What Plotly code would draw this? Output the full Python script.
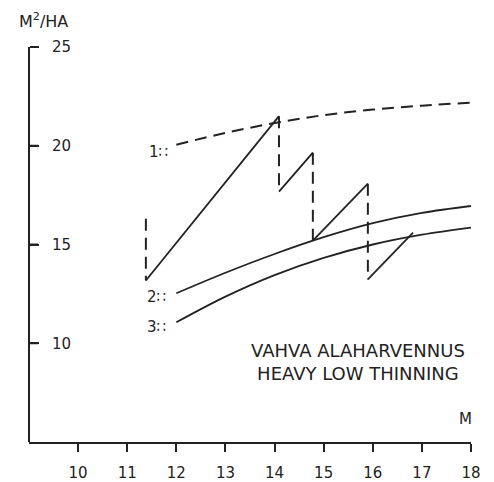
import plotly.graph_objects as go

# ---- data ----
x_grid = [12, 13, 14, 15, 16, 17, 18]
curve1 = [20.05, 20.65, 21.15, 21.55, 21.83, 22.03, 22.18]   # dashed upper limit
curve2 = [12.53, 13.57, 14.52, 15.37, 16.08, 16.60, 16.95]
curve3 = [11.06, 12.36, 13.45, 14.32, 15.00, 15.50, 15.86]

thin_x = [11.38, 11.38, 14.09, 14.09, 14.78, 14.78, 15.90, 15.90, 16.82]
thin_y = [16.31, 13.18, 21.50, 17.68, 19.65, 15.20, 18.08, 13.23, 15.60]

x_ticks = [10, 11, 12, 13, 14, 15, 16, 17, 18]
y_ticks = [10, 15, 20, 25]

curve_labels = ["1∷", "2∷", "3∷"]
curve_label_pos = [(11.87, 19.7), (11.83, 12.32), (11.83, 10.81)]

ink = "#222222"
FONT = "DejaVu Sans"
X_RANGE = [9, 18]
Y_RANGE = [5, 25]

fig = go.Figure()

# dashed curve 1
fig.add_trace(go.Scatter(x=x_grid, y=curve1, mode="lines", line_shape="spline",
                         line=dict(color=ink, width=2, dash="12px,7px"),
                         showlegend=False, hoverinfo="skip"))
# solid curves 2 and 3
for c in (curve2, curve3):
    fig.add_trace(go.Scatter(x=x_grid, y=c, mode="lines", line_shape="spline",
                             line=dict(color=ink, width=1.8),
                             showlegend=False, hoverinfo="skip"))

# thinning path: vertical drops dashed, growth segments solid
dx, dy, sx, sy = [], [], [], []
for i in range(len(thin_x) - 1):
    seg_x = [thin_x[i], thin_x[i + 1], None]
    seg_y = [thin_y[i], thin_y[i + 1], None]
    if i % 2 == 0:
        dx += seg_x; dy += seg_y
    else:
        sx += seg_x; sy += seg_y
fig.add_trace(go.Scatter(x=dx, y=dy, mode="lines",
                         line=dict(color=ink, width=2, dash="12px,7px"),
                         showlegend=False, hoverinfo="skip"))
fig.add_trace(go.Scatter(x=sx, y=sy, mode="lines",
                         line=dict(color=ink, width=1.8),
                         showlegend=False, hoverinfo="skip"))

# y-axis tick marks pointing right from the axis line (~9 px), drawn as line segments
tick_len_units = (X_RANGE[1] - X_RANGE[0]) * 9 / 442
tx, ty = [], []
for v in y_ticks:
    tx += [X_RANGE[0], X_RANGE[0] + tick_len_units, None]
    ty += [v, v, None]
fig.add_trace(go.Scatter(x=tx, y=ty, mode="lines", line=dict(color=ink, width=2),
                         cliponaxis=False, showlegend=False, hoverinfo="skip"))

annotations = []
for lab, (lx, ly) in zip(curve_labels, curve_label_pos):
    annotations.append(dict(x=lx, y=ly, text=lab, showarrow=False, xanchor="right",
                            yanchor="middle", font=dict(family=FONT, size=15, color=ink)))
annotations.append(dict(x=15.7, y=9.07, text="VAHVA ALAHARVENNUS<br>HEAVY LOW THINNING",
                        showarrow=False, xanchor="center", yanchor="middle", align="center",
                        font=dict(family=FONT, size=18, color=ink)))
annotations.append(dict(x=17.88, y=6.16, text="M", showarrow=False,
                        font=dict(family=FONT, size=15, color=ink)))
annotations.append(dict(x=0.032, y=1.066, xref="paper", yref="paper",
                        xanchor="center", yanchor="middle",
                        text="M<sup>2</sup>/HA", showarrow=False,
                        font=dict(family=FONT, size=16, color=ink)))

fig.update_layout(
    width=494, height=482,
    margin=dict(l=29, r=23, t=47, b=40),
    plot_bgcolor="rgba(0,0,0,0)", paper_bgcolor="white",
    template="simple_white",
    annotations=annotations,
    xaxis=dict(range=X_RANGE, tickvals=x_ticks, ticktext=[str(v) for v in x_ticks],
               automargin=False,
               showgrid=False, zeroline=False, showline=True, linecolor=ink, linewidth=2,
               ticks="outside", ticklen=8, tickwidth=2, tickcolor=ink,
               ticklabelstandoff=8,
               tickfont=dict(family=FONT, size=15, color=ink)),
    yaxis=dict(range=Y_RANGE, side="right", anchor="free", position=0,
               tickvals=y_ticks, ticktext=[str(v) for v in y_ticks], automargin=False,
               showgrid=False, zeroline=False, showline=True, linecolor=ink, linewidth=2,
               mirror=False,
               ticks="outside", ticklen=9, tickwidth=2, tickcolor=ink,
               ticklabelstandoff=10,
               tickfont=dict(family=FONT, size=15, color=ink)),
)

fig.write_html("out.html")
